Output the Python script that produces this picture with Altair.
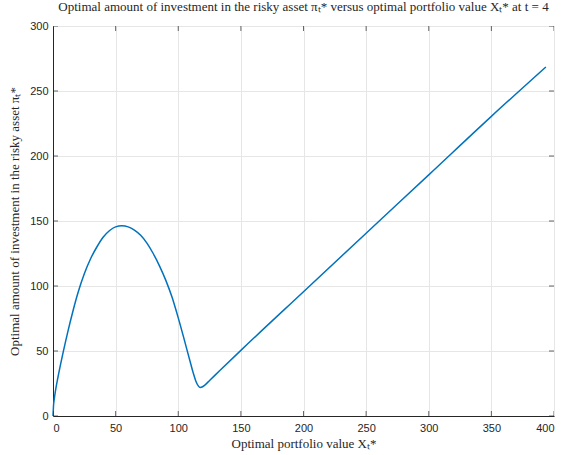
import altair as alt
import pandas as pd

# Curve
x_vals = [0, 0.5, 1, 2, 4, 6, 8, 12, 16, 20, 25, 30, 35, 40, 45, 50, 55, 60, 65, 70,
          75, 80, 85, 90, 95, 100, 105, 110, 112, 114, 116, 117.5, 119, 121, 125, 133,
          150, 200, 250, 300, 350, 393.5]
y_vals = [0, 9, 13, 19.5, 30, 39.5, 48.5, 65.5, 81, 95, 109.5, 121, 130, 137.5, 142.5,
          145.5, 146.3, 145.5, 143, 139, 133, 125, 115.5, 104.5, 91.5, 75.5, 58, 40,
          33, 27, 23.2, 22, 22.3, 23.6, 27.3, 34.8, 50.5, 95.6, 140.6, 185.5, 230.5, 268.5]

x_ticks = [0, 50, 100, 150, 200, 250, 300, 350, 400]
y_ticks = [0, 50, 100, 150, 200, 250, 300]

W, H = 501, 390
AX = "#262626"
SERIF = "Liberation Serif"
SANS = "Liberation Sans"

df = pd.DataFrame({"x": x_vals, "y": y_vals})
dx = pd.DataFrame({"t": x_ticks})
dy = pd.DataFrame({"t": y_ticks})

xs = alt.Scale(domain=[0, 400], nice=False)
ys = alt.Scale(domain=[0, 300], nice=False)

line = alt.Chart(df).mark_line(color="#0072BD", strokeWidth=1.5, interpolate="monotone").encode(
    x=alt.X("x:Q", scale=xs,
            axis=alt.Axis(values=x_ticks, title="Optimal portfolio value Xₜ*", grid=True,
                          gridColor="#e6e6e6", tickSize=0, labelPadding=6,
                          domainColor=AX, labelColor=AX, labelFont=SANS, labelFontSize=11,
                          titleFont=SERIF, titleFontSize=13, titleFontWeight="normal",
                          titleColor=AX, titlePadding=4)),
    y=alt.Y("y:Q", scale=ys,
            axis=alt.Axis(values=y_ticks,
                          title="Optimal amount of investment in the risky asset πₜ*",
                          grid=True, gridColor="#e6e6e6", tickSize=0, labelPadding=5,
                          domainColor=AX, labelColor=AX, labelFont=SANS, labelFontSize=11,
                          titleFont=SERIF, titleFontSize=13, titleFontWeight="normal",
                          titleColor=AX, titlePadding=8)),
)

tk = dict(color=AX, thickness=1, size=10, clip=True)
bt = alt.Chart(dx).mark_tick(**tk).encode(x=alt.X("t:Q", scale=xs), y=alt.value(H))
tt = alt.Chart(dx).mark_tick(**tk).encode(x=alt.X("t:Q", scale=xs), y=alt.value(0))
lt = alt.Chart(dy).mark_tick(**tk).encode(y=alt.Y("t:Q", scale=ys), x=alt.value(0))
rt = alt.Chart(dy).mark_tick(**tk).encode(y=alt.Y("t:Q", scale=ys), x=alt.value(W))

chart = alt.layer(line, bt, tt, lt, rt).properties(
    width=W, height=H,
    title=alt.TitleParams(
        "Optimal amount of investment in the risky asset πₜ* versus optimal portfolio value Xₜ* at t = 4",
        font=SERIF, fontSize=13, fontWeight="normal", color=AX, offset=6, anchor="middle"),
    autosize=alt.AutoSizeParams(type="none"),
    padding={"left": 53, "top": 26, "right": 14, "bottom": 39},
).configure_view(stroke=AX, strokeWidth=1).configure(background="white")

chart.save("out.html", embed_options={"renderer": "svg", "actions": False})
